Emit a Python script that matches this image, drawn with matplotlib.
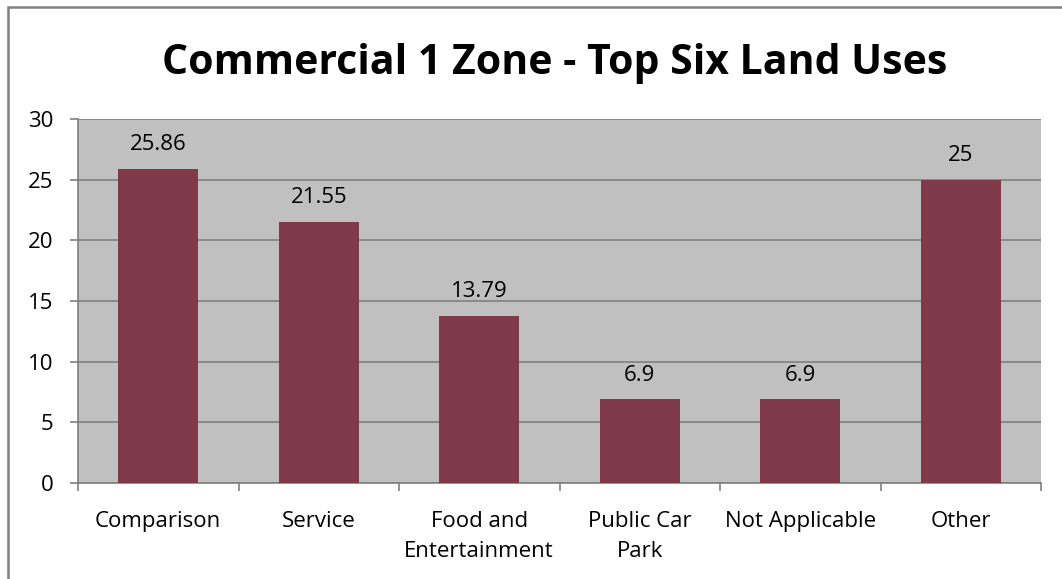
import matplotlib.pyplot as plt
import numpy as np
from matplotlib.patches import Rectangle

categories = ["Comparison", "Service", "Food and\nEntertainment", "Public Car\nPark", "Not Applicable", "Other"]
values = [25.86, 21.55, 13.79, 6.9, 6.9, 25]
value_labels = ["25.86", "21.55", "13.79", "6.9", "6.9", "25"]

plt.rcParams['font.family'] = ['Open Sans', 'DejaVu Sans']

W, H = 1062, 579
fig = plt.figure(figsize=(W / 100, H / 100), dpi=100)
ax = fig.add_axes([78 / W, 1 - 483 / H, (1041 - 78) / W, (483 - 119) / H])

x = np.arange(len(categories))
ax.set_facecolor('#C0C0C0')
ax.bar(x, values, width=0.5, color='#7F3A4A', zorder=3)
for xi, v, lab in zip(x, values, value_labels):
    ax.text(xi, v + 2.0, lab, ha='center', va='center', fontsize=16, zorder=4)

ax.set_xlim(-0.5, len(categories) - 0.5)
ax.set_ylim(0, 30)
ax.set_yticks(range(0, 31, 5))
ax.yaxis.grid(True, color='#808080', lw=1.2, zorder=1)
ax.set_xticks(np.arange(-0.5, len(categories), 1))
ax.set_xticklabels([])
ax.set_xticks(x, minor=True)
ax.set_xticklabels(categories, minor=True, fontsize=16, linespacing=1.6)
ax.tick_params(axis='x', which='minor', length=0, pad=20)
ax.tick_params(axis='x', which='major', length=5.8, color='#808080', width=1.2)
ax.tick_params(axis='y', length=5.8, color='#808080', width=1.2, labelsize=16, pad=12)
for side in ['top', 'right']:
    ax.spines[side].set_visible(False)
for side in ['left', 'bottom']:
    ax.spines[side].set_color('#808080')
    ax.spines[side].set_linewidth(1.2)

fig.text(555 / W, 1 - 64 / H, "Commercial 1 Zone - Top Six Land Uses",
         ha='center', va='center', fontsize=29.5, fontweight='bold')

fig.add_artist(Rectangle((8 / W, -0.5), 2, 1.5 - 7 / H, transform=fig.transFigure,
                         fill=False, ec='#808080', lw=1.8))

fig.savefig('out.png', dpi=100)
